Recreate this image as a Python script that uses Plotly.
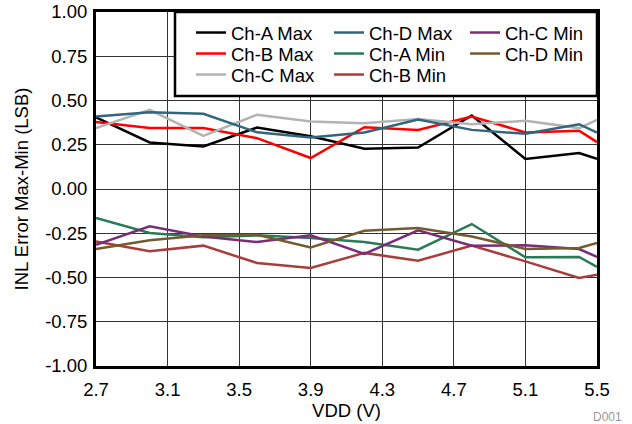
import plotly.graph_objects as go

vdd = [2.7, 3.0, 3.3, 3.6, 3.9, 4.2, 4.5, 4.8, 5.1, 5.4, 5.5]

ch_a_max = [0.404, 0.263, 0.240, 0.347, 0.298, 0.227, 0.234, 0.415, 0.170, 0.203, 0.170]
ch_b_max = [0.378, 0.344, 0.344, 0.287, 0.175, 0.349, 0.334, 0.410, 0.319, 0.329, 0.265]
ch_c_max = [0.344, 0.447, 0.300, 0.420, 0.381, 0.372, 0.396, 0.366, 0.385, 0.344, 0.390]
ch_d_max = [0.410, 0.434, 0.425, 0.320, 0.291, 0.319, 0.392, 0.334, 0.312, 0.366, 0.319]
ch_a_min = [-0.164, -0.249, -0.273, -0.262, -0.277, -0.300, -0.343, -0.198, -0.386, -0.384, -0.440]
ch_b_min = [-0.296, -0.352, -0.320, -0.418, -0.446, -0.361, -0.405, -0.320, -0.409, -0.503, -0.484]
ch_c_min = [-0.315, -0.211, -0.268, -0.300, -0.262, -0.367, -0.234, -0.320, -0.318, -0.339, -0.384]
ch_d_min = [-0.339, -0.290, -0.262, -0.258, -0.330, -0.236, -0.220, -0.268, -0.339, -0.333, -0.305]

names = ["Ch-A Max", "Ch-B Max", "Ch-C Max", "Ch-D Max",
         "Ch-A Min", "Ch-B Min", "Ch-C Min", "Ch-D Min"]
series = [ch_a_max, ch_b_max, ch_c_max, ch_d_max,
          ch_a_min, ch_b_min, ch_c_min, ch_d_min]
colors = ["#000000", "#FF0000", "#B3B3B3", "#32667F",
          "#2B7A57", "#A83E3B", "#7A2C77", "#735B30"]

x_ticks = [2.7, 3.1, 3.5, 3.9, 4.3, 4.7, 5.1, 5.5]
y_ticks = [1.00, 0.75, 0.50, 0.25, 0.00, -0.25, -0.50, -0.75, -1.00]

FONT = "Liberation Sans, Arial, sans-serif"
FS = 18.5
W, H = 632, 424
# plot area in page pixels: x 96..597, y 12..366
L, R, T, B = 96, 632 - 597, 12, 424 - 366
pw, ph = W - L - R, H - T - B


def px_x(p):
    return (p - L) / pw


def px_y(p):
    return 1 - (p - T) / ph


# legend layout: column-major, 3 rows
col_left_px = [191, 329, 465]
row_center_px = [33, 54, 75]

fig = go.Figure()
layout_legends = {}
for i, (nm, ys, c) in enumerate(zip(names, series, colors)):
    key = "legend" if i == 0 else f"legend{i+1}"
    col, row = divmod(i, 3)
    fig.add_trace(go.Scatter(x=vdd, y=ys, mode="lines", name=nm,
                             line=dict(color=c, width=2.5),
                             legend=key))
    layout_legends[key] = dict(
        x=px_x(col_left_px[col]),
        y=px_y(row_center_px[row]),
        xanchor="left", yanchor="middle",
        bgcolor="rgba(0,0,0,0)", borderwidth=0,
        font=dict(family=FONT, size=FS, color="#000000"),
    )

fig.update_layout(
    width=W, height=H,
    margin=dict(l=L, r=R, t=T, b=B, autoexpand=False),
    paper_bgcolor="white", plot_bgcolor="white",
    font=dict(family=FONT, size=FS, color="#000000"),
    showlegend=True,
    **layout_legends,
)

fig.update_xaxes(
    range=[2.7, 5.5], tickvals=x_ticks, ticktext=[f"{v:.1f}" for v in x_ticks],
    showgrid=True, gridcolor="#333333", gridwidth=1, zeroline=False,
    showline=True, linecolor="black", linewidth=3, mirror=True,
    ticks="", tickfont=dict(family=FONT, size=FS), automargin=False,
    ticklabelstandoff=5,
    title=dict(text="VDD (V)", font=dict(family=FONT, size=FS), standoff=3),
)
fig.update_yaxes(
    range=[-1, 1], tickvals=y_ticks, ticktext=[f"{v:.2f}" for v in y_ticks],
    showgrid=True, gridcolor="#333333", gridwidth=1, zeroline=False,
    showline=True, linecolor="black", linewidth=3, mirror=True,
    ticks="", tickfont=dict(family=FONT, size=FS), automargin=False,
    ticklabelstandoff=2,
    title=dict(text="INL Error Max-Min (LSB)", font=dict(family=FONT, size=FS), standoff=12),
)

# legend frame
fig.add_shape(type="rect", xref="paper", yref="paper",
              x0=px_x(175), x1=1.0, y0=px_y(96), y1=1.0,
              line=dict(color="black", width=2.5), fillcolor="white", layer="above")

fig.add_annotation(text="D001", xref="paper", yref="paper",
                   x=px_x(624), y=px_y(417),
                   xanchor="right", yanchor="middle", showarrow=False,
                   font=dict(family=FONT, size=12, color="#999999"))

fig.write_html("out.html",
               config={"displayModeBar": False},
               post_script="document.body.style.margin='0';document.body.style.overflow='hidden';")
